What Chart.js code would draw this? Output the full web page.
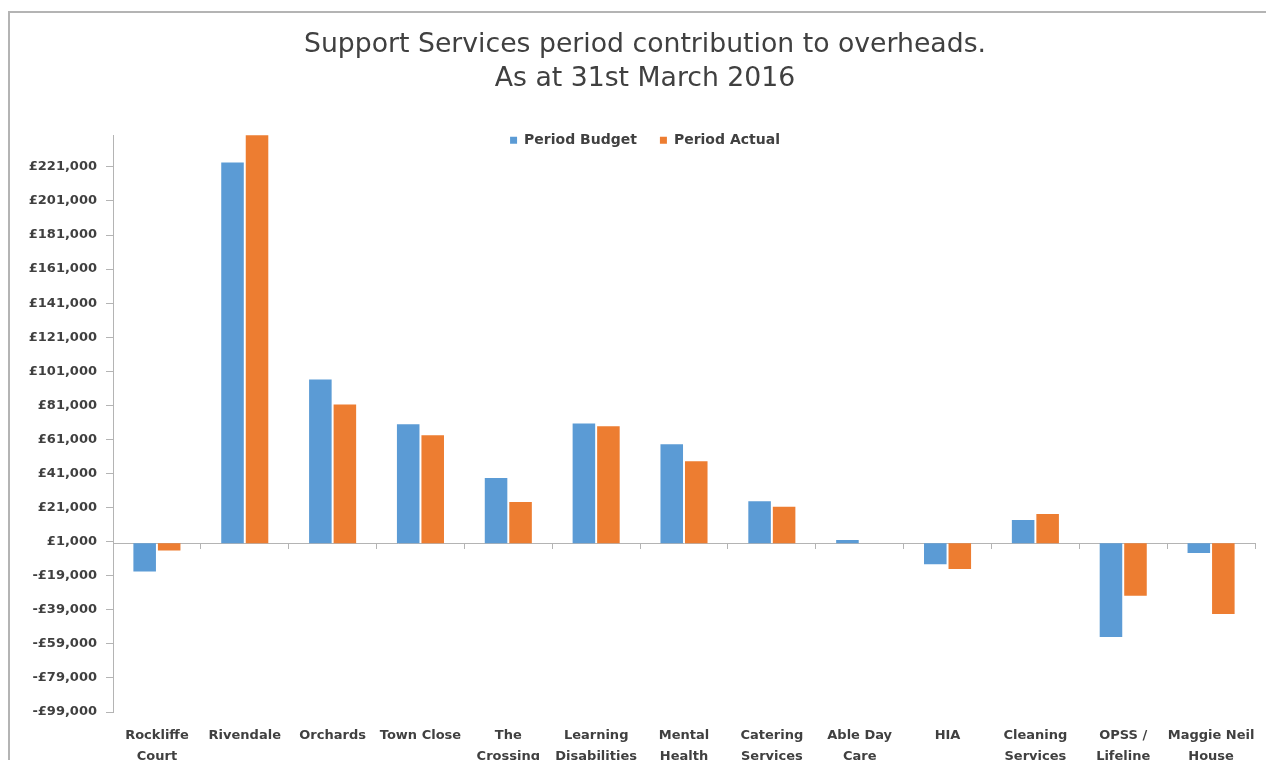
<!DOCTYPE html>
<html>
<head>
<meta charset="utf-8">
<script src="https://cdn.jsdelivr.net/npm/chart.js@4.4.0/dist/chart.umd.min.js"></script>
<style>
  html, body { margin: 0; padding: 0; background: #fff; overflow: hidden; }
  #frame { position: absolute; left: 8px; top: 11px; width: 1400px; height: 900px;
           border-top: 2px solid #b4b4b4; border-left: 2px solid #b4b4b4; }
  #wrap { position: absolute; left: 0; top: 0; width: 1290px; height: 790px; }
</style>
</head>
<body>
<div id="frame"></div>
<div id="wrap"><canvas id="chart"></canvas></div>
<script>
// data
const categories = [
  ['Rockliffe', 'Court'], 'Rivendale', 'Orchards', 'Town Close', ['The', 'Crossing'],
  ['Learning', 'Disabilities'], ['Mental', 'Health'], ['Catering', 'Services'],
  ['Able Day', 'Care'], 'HIA', ['Cleaning', 'Services'], ['OPSS /', 'Lifeline'],
  ['Maggie Neil', 'House']
];
const periodBudget = [-16500, 223600, 96200, 69900, 38300, 70400, 58200, 24700, 1900, -12200, 13700, -55000, -5700];
const periodActual = [-4200, 241000, 81500, 63400, 24300, 68700, 48200, 21500, 0, -15100, 17200, -30700, -41400];
const yTicks = [-99000, -79000, -59000, -39000, -19000, 1000, 21000, 41000, 61000, 81000,
                101000, 121000, 141000, 161000, 181000, 201000, 221000];
const yMin = -99000;
const yMax = 239500;

const axisGrey = '#b4b4b4';
const textGrey = '#404040';
const fontFamily = '"DejaVu Sans", sans-serif';

const money = v => (v < 0 ? '-£' : '£') + Math.abs(v).toLocaleString('en-GB');

// legend sits inside the top of the plot like Excel does, and y labels may run left of the axis box
const looseBoxes = {
  id: 'looseBoxes',
  afterLayout(chart) {
    chart.scales.y.left = 0;
    chart.legend.bottom = chart.legend.top + 50;
  }
};

new Chart(document.getElementById('chart'), {
  type: 'bar',
  data: {
    labels: categories,
    datasets: [{
      label: 'Period Budget',
      data: periodBudget,
      backgroundColor: '#5B9BD5',
      categoryPercentage: 0.558,
      barPercentage: 0.92,
      xAxisID: 'x'
    }, {
      label: 'Period Actual',
      data: periodActual,
      backgroundColor: '#ED7D31',
      categoryPercentage: 0.558,
      barPercentage: 0.92,
      xAxisID: 'x'
    }]
  },
  plugins: [looseBoxes],
  options: {
    responsive: true,
    maintainAspectRatio: false,
    animation: false,
    layout: { padding: { left: 35, right: 35, top: 0, bottom: 0 } },
    scales: {
      x: {
        type: 'category',
        position: 'bottom',
        grid: { display: false },
        border: { display: false },
        ticks: {
          color: textGrey,
          font: { family: fontFamily, size: 13, weight: 'bold', lineHeight: 1.55 },
          padding: 6,
          maxRotation: 0,
          autoSkip: false
        },
        afterFit: s => { s.height = 78; }
      },
      xZero: {
        axis: 'x',
        type: 'category',
        position: { y: 0 },
        offset: true,
        grid: { display: true, offset: true, drawOnChartArea: false, drawTicks: true, tickLength: 5, color: axisGrey },
        border: { display: true, color: axisGrey },
        ticks: { display: false }
      },
      y: {
        position: 'left',
        min: yMin,
        max: yMax,
        afterBuildTicks: s => { s.ticks = yTicks.map(v => ({ value: v })); },
        afterFit: s => { s.width = 78; },
        grid: { drawOnChartArea: false, drawTicks: true, tickLength: 7, color: axisGrey },
        border: { display: true, color: axisGrey },
        ticks: {
          color: textGrey,
          padding: 9,
          font: { family: fontFamily, size: 13, weight: 'bold' },
          callback: v => money(v)
        }
      }
    },
    plugins: {
      title: {
        display: true,
        text: ['Support Services period contribution to overheads.', 'As at 31st March 2016'],
        color: textGrey,
        font: { family: fontFamily, size: 26.7, weight: 'normal', lineHeight: 1.28 },
        padding: { top: 28, bottom: 14 }
      },
      legend: {
        position: 'top',
        align: 'center',
        maxHeight: 25,
        labels: {
          boxWidth: 7,
          boxHeight: 7,
          padding: 23,
          color: textGrey,
          font: { family: fontFamily, size: 14, weight: 'bold' }
        }
      },
      tooltip: { enabled: false }
    }
  }
});
</script>
</body>
</html>
